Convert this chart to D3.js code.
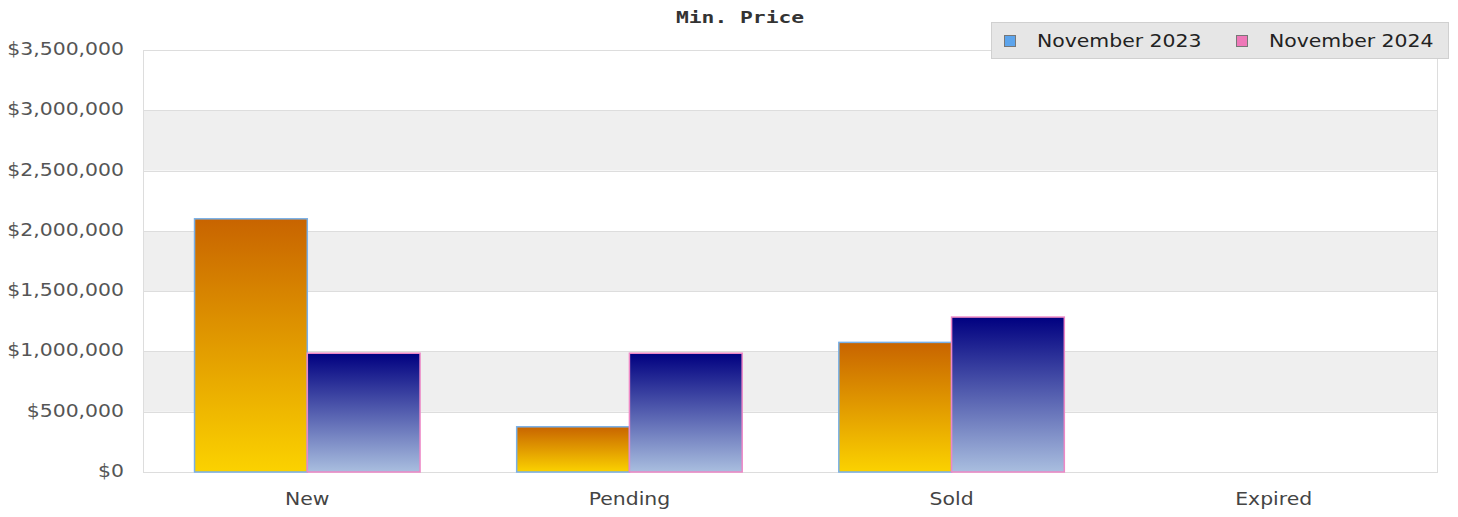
<!DOCTYPE html>
<html>
<head>
<meta charset="utf-8">
<script src="https://cdn.jsdelivr.net/npm/d3@7"></script>
<style>
  body { margin: 0; background: #fff; }
  text { font-family: "DejaVu Sans", sans-serif; }
</style>
</head>
<body>
<div id="chart"></div>
<script>
// chart data
const categories = ["New", "Pending", "Sold", "Expired"];
const seriesNames = ["November 2023", "November 2024"];
const values2023 = [2100000, 375000, 1075000, 0];
const values2024 = [985000, 985000, 1285000, 0];
const yTicks = [0, 500000, 1000000, 1500000, 2000000, 2500000, 3000000, 3500000];

const width = 1458, height = 517;
const margin = {top: 50, right: 20, bottom: 45, left: 143};
const stretch = 1.2; // text in the original is drawn a bit wide

const svg = d3.select("#chart").append("svg")
    .attr("width", width)
    .attr("height", height);

const defs = svg.append("defs");
function addGradient(id, top, bottom) {
    const g = defs.append("linearGradient")
      .attr("id", id)
      .attr("x1", "0%").attr("x2", "0%")
      .attr("y1", "0%").attr("y2", "100%");
    g.append("stop").attr("offset", "0%").attr("stop-color", top);
    g.append("stop").attr("offset", "100%").attr("stop-color", bottom);
}
addGradient("grad2023", "#c86400", "#fbd200");
addGradient("grad2024", "#000080", "#a9bedf");

const x0 = d3.scaleBand()
    .domain(categories)
    .range([margin.left, width - margin.right])
    .paddingInner(0.3)
    .paddingOuter(0.16);

const x1 = d3.scaleBand()
    .domain(seriesNames)
    .range([0, x0.bandwidth()]);

const y = d3.scaleLinear()
    .domain([0, 3500000])
    .range([height - margin.bottom, margin.top]);

// alternating bands
const bands = svg.append("g");
for (let i = 0; i < yTicks.length - 1; i++) {
    bands.append("rect")
      .attr("x", margin.left)
      .attr("y", y(yTicks[i + 1]))
      .attr("width", width - margin.right - margin.left)
      .attr("height", y(yTicks[i]) - y(yTicks[i + 1]))
      .attr("fill", i % 2 === 1 ? "#efefef" : "#ffffff");
}

// grid lines
svg.append("g")
    .selectAll("line")
    .data(yTicks)
    .enter().append("line")
      .attr("x1", margin.left)
      .attr("x2", width - margin.right)
      .attr("y1", d => Math.round(y(d)) + 0.5)
      .attr("y2", d => Math.round(y(d)) + 0.5)
      .attr("stroke", "#dddddd");

// plot frame
svg.append("rect")
    .attr("x", margin.left + 0.5)
    .attr("y", margin.top + 0.5)
    .attr("width", width - margin.right - margin.left - 1)
    .attr("height", height - margin.bottom - margin.top)
    .attr("fill", "none")
    .attr("stroke", "#dddddd");

// y tick labels
const fmt = d3.format("$,");
svg.append("g")
    .selectAll("text")
    .data(yTicks)
    .enter().append("text")
      .attr("transform", d => `translate(124,${y(d) + 5}) scale(${stretch},1)`)
      .attr("text-anchor", "end")
      .style("font-size", "17px")
      .attr("fill", "#555")
      .text(d => fmt(d));

// bars
const rows = categories.map((c, i) => ({cat: c, vals: [values2023[i], values2024[i]]}));
const strokes = ["#78b0e8", "#ee88c6"];
const fills = ["url(#grad2023)", "url(#grad2024)"];

const groups = svg.append("g")
    .selectAll("g")
    .data(rows)
    .enter().append("g")
      .attr("transform", d => `translate(${x0(d.cat)},0)`);

groups.selectAll("rect")
    .data(d => d.vals.map((v, j) => ({v: v, j: j})))
    .enter().append("rect")
      .filter(d => d.v > 0)
      .attr("x", d => x1(seriesNames[d.j]))
      .attr("y", d => y(d.v))
      .attr("width", x1.bandwidth())
      .attr("height", d => y(0) - y(d.v))
      .attr("fill", d => fills[d.j])
      .attr("stroke", d => strokes[d.j])
      .attr("stroke-width", 1.5);

// category labels
svg.append("g")
    .selectAll("text")
    .data(categories)
    .enter().append("text")
      .attr("transform", d => `translate(${x0(d) + x0.bandwidth() / 2},${height - 12}) scale(${stretch},1)`)
      .attr("text-anchor", "middle")
      .style("font-size", "17px")
      .attr("fill", "#444")
      .text(d => d);

// title
svg.append("text")
    .attr("transform", `translate(740,23) scale(1.42,1)`)
    .attr("text-anchor", "middle")
    .style("font-family", "'DejaVu Sans Mono', monospace")
    .style("font-size", "15px")
    .style("font-weight", "bold")
    .attr("fill", "#333")
    .text("Min. Price");

// legend
const legend = svg.append("g");
legend.append("rect")
    .attr("x", 991.5).attr("y", 22.5)
    .attr("width", 457).attr("height", 36)
    .attr("fill", "#e6e6e6")
    .attr("stroke", "#d0d0d0");

const legendColors = ["#5ca4ec", "#ee78b8"];
const legendX = [1004, 1236];
seriesNames.forEach((name, i) => {
    legend.append("rect")
      .attr("x", legendX[i] + 0.5).attr("y", 35.5)
      .attr("width", 11).attr("height", 11)
      .attr("fill", legendColors[i])
      .attr("stroke", "#777");
    legend.append("text")
      .attr("transform", `translate(${legendX[i] + 33},47) scale(${stretch},1)`)
      .style("font-size", "17px")
      .attr("fill", "#222")
      .text(name);
});
</script>
</body>
</html>
